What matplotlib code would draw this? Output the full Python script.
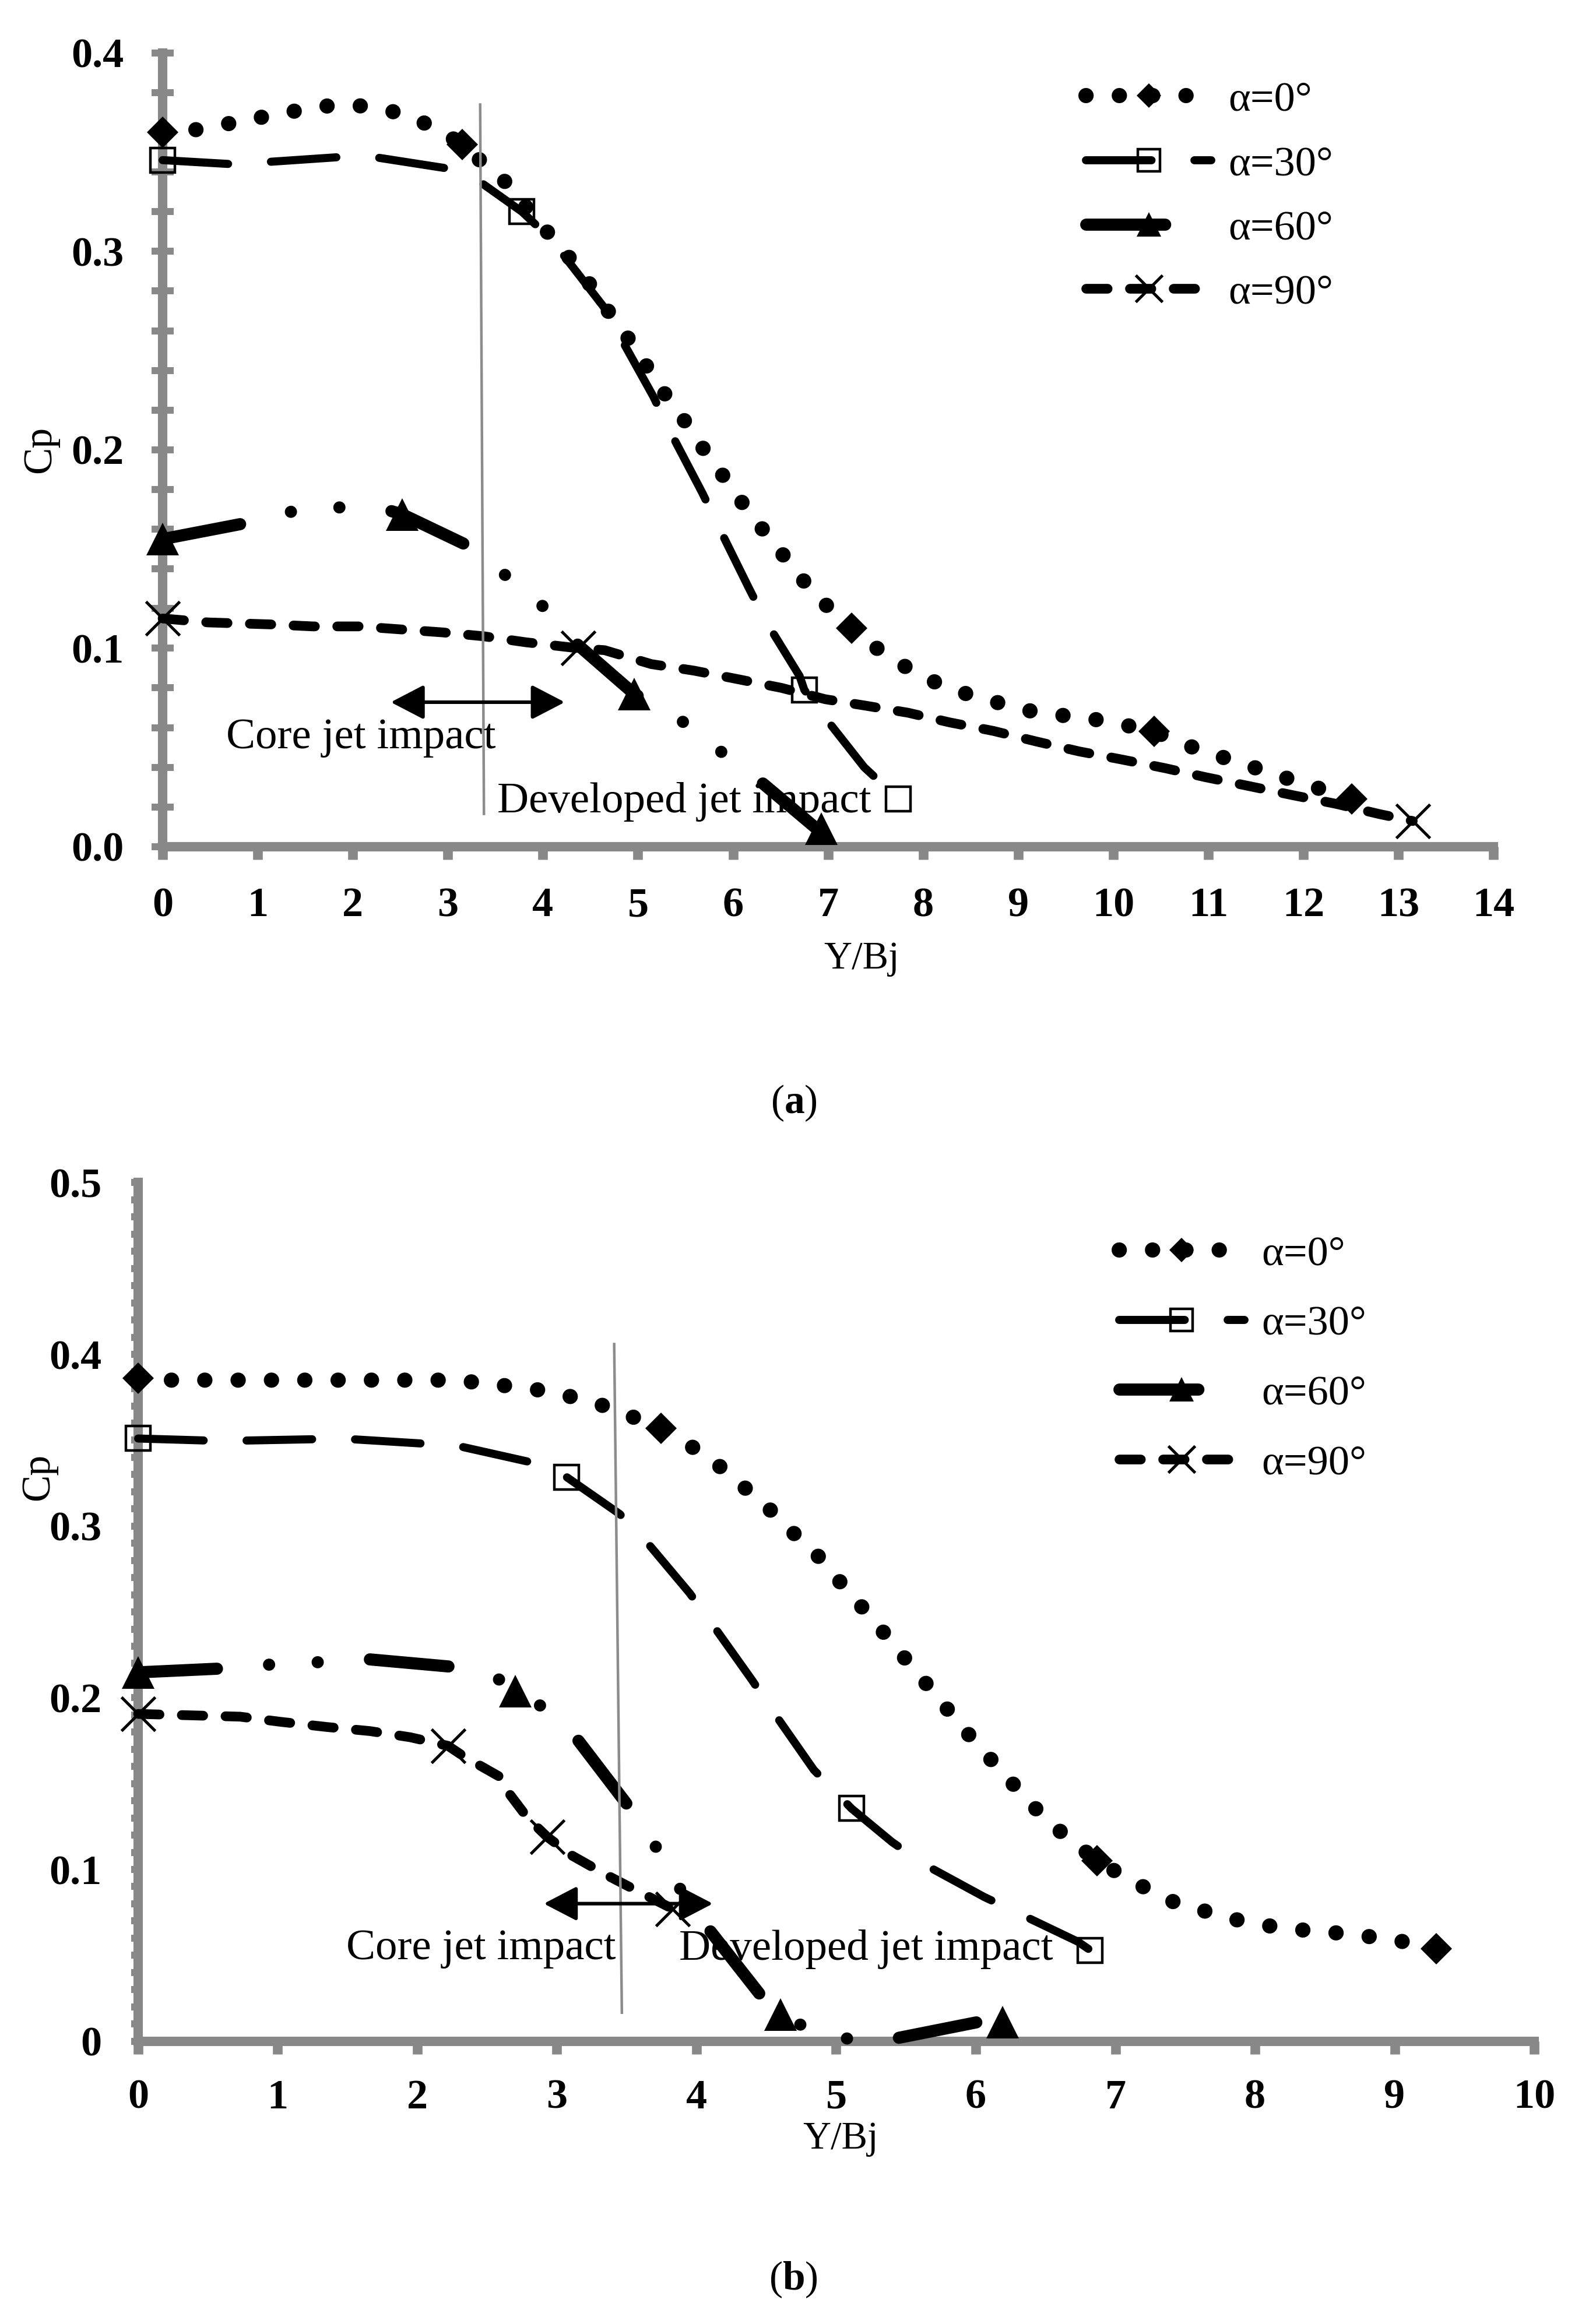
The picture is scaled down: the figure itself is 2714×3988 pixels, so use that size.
import matplotlib.pyplot as plt
from matplotlib.lines import Line2D
from matplotlib.patches import ArrowStyle

plt.rcParams['font.family'] = ['Liberation Serif', 'DejaVu Serif']
plt.rcParams['mathtext.fontset'] = 'custom'
plt.rcParams['mathtext.rm'] = 'Liberation Serif'
plt.rcParams['mathtext.bf'] = 'Liberation Serif:bold'

labels = ['α=0°', 'α=30°', 'α=60°', 'α=90°']

# ---- panel (a): curves ----
a0_x = [0, 0.31, 0.65, 0.97, 1.31, 1.64, 1.97, 2.30, 2.61, 2.91, 3.15, 3.43, 3.68, 3.87,
        4.10, 4.31, 4.50, 4.70, 4.90, 5.08, 5.27, 5.47, 5.65, 5.85, 6.04, 6.24, 6.45,
        6.65, 6.87, 7.10, 7.25, 7.35, 7.61, 7.90, 8.21, 8.52, 8.83, 9.16, 9.49, 9.82,
        10.15, 10.43, 10.78, 11.09, 11.41, 11.73, 12.04, 12.34, 12.51]
a0_y = [0.360, 0.361, 0.364, 0.367, 0.370, 0.373, 0.374, 0.372, 0.368, 0.361, 0.354, 0.342,
        0.332, 0.319, 0.307, 0.295, 0.283, 0.269, 0.256, 0.243, 0.229, 0.216, 0.203, 0.190,
        0.177, 0.164, 0.152, 0.139, 0.127, 0.116, 0.110, 0.105, 0.097, 0.088, 0.081, 0.076,
        0.072, 0.068, 0.066, 0.064, 0.061, 0.058, 0.051, 0.046, 0.041, 0.036, 0.031, 0.027,
        0.024]
a30_x = [0, 0.72, 1.08, 1.85, 2.23, 2.97, 3.31, 3.78, 4.09, 4.64, 4.80, 5.16, 5.33, 5.68,
         5.84, 6.17, 6.34, 6.70, 6.75, 6.92, 7.38, 7.74]
a30_y = [0.346, 0.344, 0.345, 0.3475, 0.3475, 0.342, 0.336, 0.320, 0.306, 0.272, 0.258,
         0.227, 0.210, 0.178, 0.162, 0.130, 0.114, 0.086, 0.079, 0.068, 0.040, 0.024]
a60_x = [0, 0.91, 1.37, 1.87, 2.37, 2.52, 3.21, 3.60, 3.99, 4.37, 4.96, 5.08, 5.47, 5.87,
         6.26, 6.93]
a60_y = [0.155, 0.1634, 0.169, 0.171, 0.1696, 0.1675, 0.1517, 0.137, 0.1216, 0.1016, 0.077,
         0.074, 0.063, 0.048, 0.034, 0.007]
a90_x = [0, 0.48, 1.14, 1.58, 2.07, 2.50, 2.94, 3.38, 3.82, 4.37, 4.65, 5.14, 5.59, 6.04,
         6.51, 6.97, 7.40, 7.84, 8.28, 8.74, 9.19, 9.64, 10.08, 10.54, 10.97, 11.43, 11.88,
         12.34, 12.80, 13.15]
a90_y = [0.115, 0.113, 0.112, 0.111, 0.111, 0.1095, 0.108, 0.106, 0.103, 0.100, 0.099,
         0.092, 0.0887, 0.0845, 0.080, 0.0743, 0.071, 0.0675, 0.0626, 0.0583, 0.053, 0.048,
         0.044, 0.0396, 0.035, 0.0305, 0.026, 0.0216, 0.0164, 0.0129]

# marker points (a)
a0_mx, a0_my = [0, 3.15, 7.25, 10.43, 12.51], [0.360, 0.354, 0.110, 0.058, 0.024]
a30_mx, a30_my = [0, 3.78, 6.75, 7.74], [0.346, 0.320, 0.079, 0.024]
a60_mx, a60_my = [0, 2.52, 4.96, 6.93], [0.155, 0.1675, 0.077, 0.009]
a90_mx, a90_my = [0, 4.37, 13.15], [0.115, 0.100, 0.0129]

# ---- panel (b) ----
b0_x = [0, 0.24, 1.0, 1.6, 2.27, 2.50, 2.71, 2.94, 3.17, 3.38, 3.59, 3.745, 3.99, 4.17,
        4.35, 4.52, 4.68, 4.85, 4.99, 5.14, 5.29, 5.43, 5.58, 5.73, 5.87, 6.02, 6.17, 6.32,
        6.48, 6.65, 6.87, 7.02, 7.22, 7.42, 7.63, 7.85, 8.07, 8.30, 8.52, 8.75, 8.98, 9.30]
b0_y = [0.386, 0.385, 0.385, 0.385, 0.385, 0.383, 0.381, 0.3785, 0.374, 0.369, 0.362,
        0.357, 0.345, 0.3345, 0.322, 0.310, 0.297, 0.2845, 0.271, 0.257, 0.243, 0.229,
        0.2145, 0.200, 0.186, 0.172, 0.1585, 0.145, 0.131, 0.119, 0.105, 0.098, 0.089,
        0.081, 0.076, 0.071, 0.0675, 0.065, 0.0636, 0.0616, 0.0593, 0.054]
b30_x = [0, 0.5, 0.76, 1.27, 1.53, 2.05, 2.29, 2.79, 3.07, 3.45, 3.63, 3.95, 4.12, 4.40,
         4.56, 4.84, 5.11, 5.40, 5.63, 6.06, 6.28, 6.73, 6.82]
b30_y = [0.351, 0.3498, 0.3498, 0.3506, 0.3506, 0.348, 0.3467, 0.3376, 0.3285, 0.307,
         0.292, 0.261, 0.242, 0.210, 0.1906, 0.158, 0.1355, 0.116, 0.103, 0.084, 0.0755,
         0.058, 0.053]
b60_x = [0, 0.64, 0.97, 1.31, 1.64, 2.27, 2.60, 2.70, 2.89, 3.15, 3.52, 3.71, 3.88, 4.08,
         4.47, 4.60, 4.74, 5.08, 5.25, 5.42, 6.02, 6.19]
b60_y = [0.2148, 0.2172, 0.2195, 0.2208, 0.2225, 0.2179, 0.2103, 0.204, 0.195, 0.1754,
         0.136, 0.113, 0.089, 0.066, 0.0256, 0.0155, 0.0097, 0.0015, 0.0, 0.0015, 0.0112,
         0.012]
b90_x = [0, 0.73, 1.02, 1.35, 1.66, 1.95, 2.22, 2.33, 2.59, 2.66, 2.79, 2.93, 3.11, 3.35,
         3.54, 3.83]
b90_y = [0.1906, 0.189, 0.186, 0.183, 0.1806, 0.177, 0.172, 0.166, 0.154, 0.144, 0.130,
         0.119, 0.108, 0.097, 0.089, 0.077]

b0_mx, b0_my = [0, 3.745, 6.87, 9.30], [0.386, 0.357, 0.105, 0.054]
b30_mx, b30_my = [0, 3.07, 5.11, 6.82], [0.351, 0.3285, 0.1355, 0.053]
b60_mx, b60_my = [0, 2.70, 4.60, 6.19], [0.2148, 0.204, 0.0155, 0.011]
b90_mx, b90_my = [0, 2.22, 2.93, 3.83], [0.1906, 0.172, 0.119, 0.077]

a_xticks = list(range(0, 15))
a_yticks = [0.0, 0.1, 0.2, 0.3, 0.4]
a_yticklabels = ['0.0', '0.1', '0.2', '0.3', '0.4']
b_xticks = list(range(0, 11))
b_yticks = [0.0, 0.1, 0.2, 0.3, 0.4, 0.5]
b_yticklabels = ['0', '0.1', '0.2', '0.3', '0.4', '0.5']

# line styles (Excel-like patterns)
line_styles = [
    dict(lw=9.4, ls=(0, (0.01, 2.18))),
    dict(lw=5.0, ls=(0, (8.1, 5.3))),
    dict(lw=7.5, ls=(0, (6.5, 4.3, 0.01, 4.0, 0.01, 4.3))),
    dict(lw=6.0, ls=(0, (2.2, 2.3))),
]
marker_styles = [
    dict(marker='D', ms=14, mfc='black', mec='black', mew=0),
    dict(marker='s', ms=15, mfc='none', mec='black', mew=1.6),
    dict(marker='^', ms=20.5, mfc='black', mec='black', mew=0),
    dict(marker='x', ms=21, mfc='black', mec='black', mew=1.8),
]
legend_ms = [10.5, 14, 15, 16.5]

GRAY = '#888888'
TICKFONT = dict(fontsize=26, fontweight='bold')


def draw_panel(ax, curves, marks):
    for (cx, cy), (mx, my), ls, mk in zip(curves, marks, line_styles, marker_styles):
        ax.plot(cx, cy, color='black', lw=ls['lw'], ls=ls['ls'],
                dash_capstyle='round', solid_capstyle='round', clip_on=False, zorder=3)
        ax.plot(mx, my, ls='none', clip_on=False, zorder=4, **mk)


def style_axes(ax, xticks, yticks, yticklabels, yminor, ytick_dir, ytick_len, ypad, xpad):
    for s in ['top', 'right']:
        ax.spines[s].set_visible(False)
    for s in ['left', 'bottom']:
        ax.spines[s].set_color(GRAY)
        ax.spines[s].set_linewidth(5.8)
    ax.set_xlim(xticks[0], xticks[-1])
    ax.set_ylim(yticks[0], yticks[-1])
    ax.set_xticks(xticks)
    ax.set_xticklabels([str(t) for t in xticks], **TICKFONT)
    ax.set_yticks(yticks)
    ax.set_yticklabels(yticklabels, **TICKFONT)
    ax.set_yticks(yminor, minor=True)
    ax.tick_params(axis='x', which='major', direction='out', length=8, width=6,
                   color=GRAY, pad=xpad)
    ax.tick_params(axis='y', which='both', direction=ytick_dir, length=ytick_len,
                   width=4.3, color=GRAY, pad=ypad)


def legend_handles():
    hs = []
    for ls, mk, ms in zip(line_styles, marker_styles, legend_ms):
        kw = dict(mk)
        kw['ms'] = ms
        hs.append(Line2D([], [], color='black', lw=ls['lw'], ls=ls['ls'],
                         dash_capstyle='round', solid_capstyle='round', **kw))
    return hs


fig = plt.figure(figsize=(13.57, 19.94), dpi=200)

# ---------- (a) ----------
ax1 = fig.add_axes([0.1028, 0.6357, 0.8413, 0.3415])
draw_panel(ax1,
           [(a0_x, a0_y), (a30_x, a30_y), (a60_x, a60_y), (a90_x, a90_y)],
           [(a0_mx, a0_my), (a30_mx, a30_my), (a60_mx, a60_my), (a90_mx, a90_my)])
style_axes(ax1, a_xticks, a_yticks, a_yticklabels,
           [0.02, 0.04, 0.06, 0.08, 0.12, 0.14, 0.16, 0.18, 0.22, 0.24, 0.26, 0.28,
            0.32, 0.34, 0.36, 0.38],
           'inout', 13.7, 17, 17)
ax1.plot([3.34, 3.38], [0.374, 0.0165], color='#8c8c8c', lw=1.6, zorder=5)
ax1.annotate('', xy=(4.23, 0.0728), xytext=(2.40, 0.0728),
             arrowprops=dict(arrowstyle=ArrowStyle('<|-|>', head_length=0.5, head_width=0.26),
                             mutation_scale=35, lw=2.2, color='black',
                             shrinkA=0, shrinkB=0), zorder=6)
ax1.text(0.67, 0.0547, 'Core jet impact', fontsize=27, ha='left', va='center', zorder=6)
ax1.text(3.52, 0.0226, 'Developed jet impact', fontsize=27, ha='left', va='center', zorder=2)
ax1.set_xlabel('Y/Bj', fontsize=24)
ax1.xaxis.set_label_coords(0.525, -0.119)
ax1.set_ylabel('Cp', fontsize=25)
ax1.yaxis.set_label_coords(-0.078, 0.5)

ax1.legend(legend_handles(), labels, loc='upper left', bbox_to_anchor=(0.6864, 0.9651),
           bbox_transform=fig.transFigure, frameon=False, fontsize=26, borderpad=0,
           borderaxespad=0, handlelength=2.98, handletextpad=0.41, labelspacing=0.62,
           numpoints=1)

# ---------- (b) ----------
ax2 = fig.add_axes([0.0873, 0.1217, 0.8825, 0.3694])
draw_panel(ax2,
           [(b0_x, b0_y), (b30_x, b30_y), (b60_x, b60_y), (b90_x, b90_y)],
           [(b0_mx, b0_my), (b30_mx, b30_my), (b60_mx, b60_my), (b90_mx, b90_my)])
style_axes(ax2, b_xticks, b_yticks, b_yticklabels,
           [i / 100 for i in range(1, 50) if i % 10],
           'out', 4.5, 18, 15.5)
ax2.plot([3.41, 3.465], [0.406, 0.0166], color='#8c8c8c', lw=1.6, zorder=5)
ax2.annotate('', xy=(4.117, 0.0801), xytext=(2.906, 0.0801),
             arrowprops=dict(arrowstyle=ArrowStyle('<|-|>', head_length=0.5, head_width=0.26),
                             mutation_scale=35, lw=2.2, color='black',
                             shrinkA=0, shrinkB=0), zorder=6)
ax2.text(1.49, 0.0536, 'Core jet impact', fontsize=27, ha='left', va='center', zorder=6)
ax2.text(3.875, 0.0536, 'Developed jet impact', fontsize=27, ha='left', va='center', zorder=2)
ax2.set_xlabel('Y/Bj', fontsize=24)
ax2.xaxis.set_label_coords(0.503, -0.093)
ax2.set_ylabel('Cp', fontsize=25)
ax2.yaxis.set_label_coords(-0.058, 0.657)

ax2.legend(legend_handles(), labels, loc='upper left', bbox_to_anchor=(0.7074, 0.4685),
           bbox_transform=fig.transFigure, frameon=False, fontsize=26, borderpad=0,
           borderaxespad=0, handlelength=2.98, handletextpad=0.40, labelspacing=0.75,
           numpoints=1)

fig.text(0.502, 0.5253, r'($\mathbf{a}$)', fontsize=25, ha='center', va='center')
fig.text(0.5015, 0.019, r'($\mathbf{b}$)', fontsize=25, ha='center', va='center')

fig.savefig('out.png', dpi=200, facecolor='white')
